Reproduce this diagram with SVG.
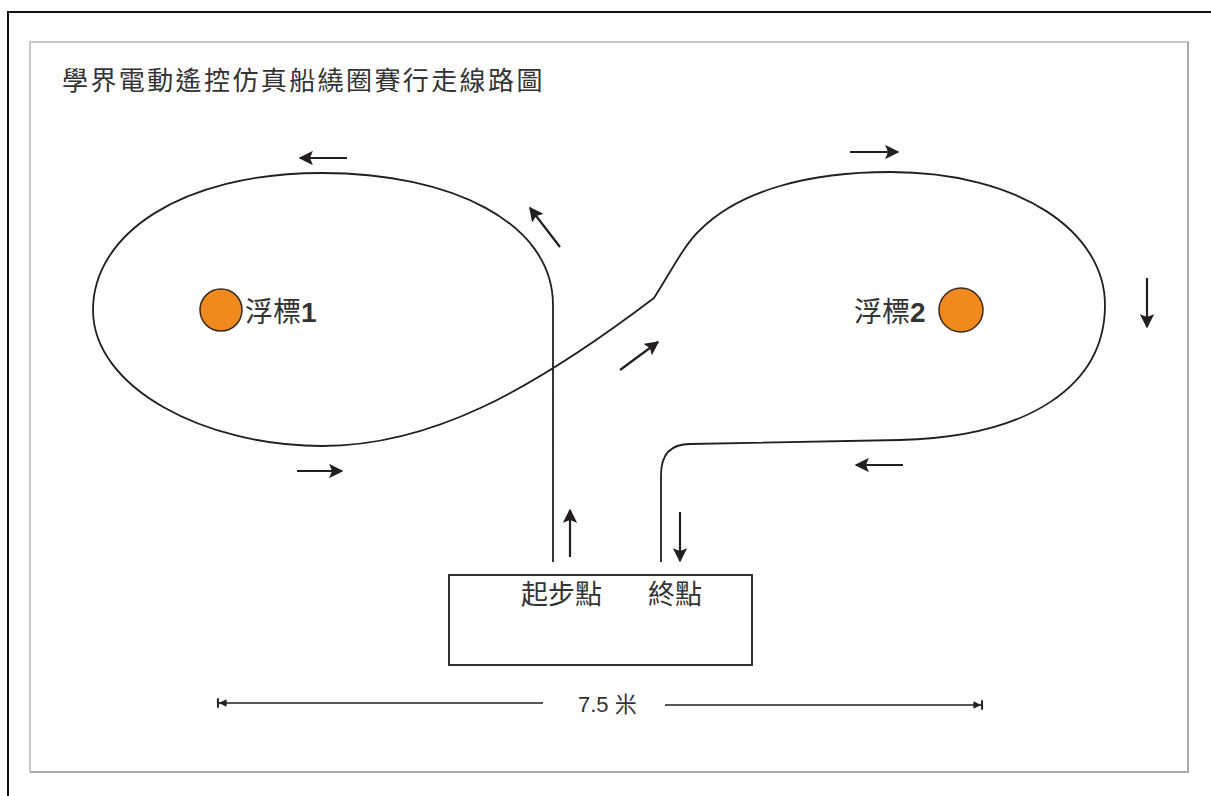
<svg xmlns="http://www.w3.org/2000/svg" width="1211" height="796" viewBox="0 0 1211 796">
<style>
.path{fill:none;stroke:#231f20;stroke-width:1.8}
.arr{stroke:#231f20;stroke-width:2.2;fill:none}
.buoy{fill:#f0891e;stroke:#3a2a1a;stroke-width:1.5}
.t{font-family:"Liberation Sans","Noto Sans CJK TC",sans-serif;fill:#333}
.dim{stroke:#231f20;stroke-width:1.6}
</style>
<defs>
<marker id="ah" viewBox="0 0 10 10" refX="9" refY="5" markerWidth="6.5" markerHeight="6.5" orient="auto" markerUnits="strokeWidth">
<path d="M0,0 L10,5 L0,10 L2,5 z" fill="#231f20"/>
</marker>
<marker id="dh" viewBox="0 0 10 10" refX="10" refY="5" markerWidth="6" markerHeight="6" orient="auto" markerUnits="strokeWidth">
<path d="M0,1 L8,5 L0,9 z M8,0 L10,0 L10,10 L8,10 z" fill="#231f20"/>
</marker>
</defs>
<rect width="1211" height="796" fill="#fff"/>
<g id="frame">
<path d="M8 796 L8 12 L1211 12" fill="none" stroke="#111" stroke-width="2"/>
<rect x="30" y="42" width="1158" height="730" fill="none" stroke="#c8c8c8" stroke-width="2"/>
<path d="M1188 42 L1188 772 L30 772" fill="none" stroke="#aaa" stroke-width="2"/>
</g>
<g id="title">
<text class="t" x="62" y="90" font-size="26" letter-spacing="2.4">學界電動遙控仿真船繞圈賽行走線路圖</text>
</g>
<g id="connectors">
<path class="path" d="M553 562 L553 305 C553 222 450 173 322 173 C180 173 93 235 93 310 C93 388 205 446 322 446 C430 446 530 392 654 298 C672 270 684 245 700 230 C740 190 810 172 890 172 C1020 172 1105 232 1105 305 C1105 385 1030 437 900 440 L690 444 Q661 444 661 475 L661 562"/>
<line class="arr" x1="347" y1="158" x2="300" y2="158" marker-end="url(#ah)"/>
<line class="arr" x1="560" y1="247" x2="530" y2="208" marker-end="url(#ah)"/>
<line class="arr" x1="620" y1="370" x2="658" y2="342" marker-end="url(#ah)"/>
<line class="arr" x1="297" y1="471" x2="342" y2="471" marker-end="url(#ah)"/>
<line class="arr" x1="570" y1="557" x2="570" y2="510" marker-end="url(#ah)"/>
<line class="arr" x1="680" y1="512" x2="680" y2="561" marker-end="url(#ah)"/>
<line class="arr" x1="903" y1="465" x2="856" y2="465" marker-end="url(#ah)"/>
<line class="arr" x1="850" y1="152" x2="898" y2="152" marker-end="url(#ah)"/>
<line class="arr" x1="1147" y1="278" x2="1147" y2="327" marker-end="url(#ah)"/>
</g>
<g id="buoy1">
<circle class="buoy" cx="221" cy="310" r="21"/>
<text class="t" x="245" y="322" font-size="28">浮標<tspan font-weight="bold">1</tspan></text>
</g>
<g id="buoy2">
<circle class="buoy" cx="961" cy="310" r="22"/>
<text class="t" x="854" y="322" font-size="28">浮標<tspan font-weight="bold">2</tspan></text>
</g>
<g id="start">
<rect x="449" y="575" width="303" height="90" fill="none" stroke="#333" stroke-width="2"/>
<text class="t" x="521" y="604" font-size="27">起步點</text>
<text class="t" x="648" y="604" font-size="27">終點</text>
</g>
<g id="dimension">
<line class="dim" x1="543" y1="703" x2="217" y2="703" marker-end="url(#dh)"/>
<line class="dim" x1="665" y1="705" x2="983" y2="705" marker-end="url(#dh)"/>
<text class="t" x="578" y="712" font-size="22">7.5 米</text>
</g>
</svg>
